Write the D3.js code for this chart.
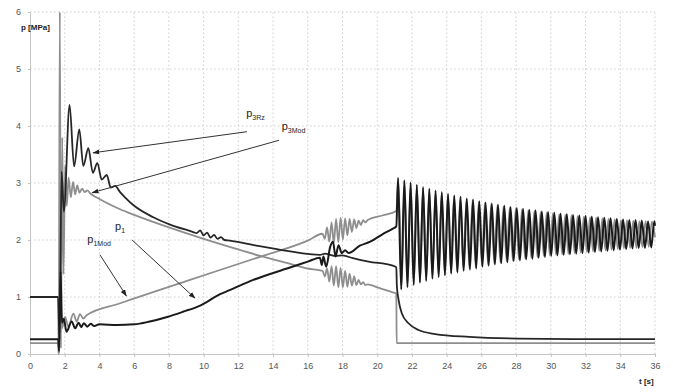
<!DOCTYPE html>
<html>
<head>
<meta charset="utf-8">
<script src="https://cdn.jsdelivr.net/npm/d3@7"></script>
<style>
  body { margin: 0; background: #fff; }
  svg { display: block; font-family: "Liberation Sans", Arial, sans-serif; }
  .grid line { stroke: #cfcfcf; stroke-dasharray: 1.5 2.5; }
</style>
</head>
<body>
<div id="chart"></div>
<script>
// tick labels
const xTicks = [0, 2, 4, 6, 8, 10, 12, 14, 16, 18, 20, 22, 24, 26, 28, 30, 32, 34, 36];
const yTicks = [0, 1, 2, 3, 4, 5, 6];

// p3Rz - measured pressure (black)
const p3Rz = [
  [0, 1.0], [1.62, 1.0], [1.70, 0.25], [1.82, 3.2], [1.95, 2.5], [2.28, 4.37], [2.54, 3.29],
  [2.84, 3.94], [3.07, 3.30], [3.36, 3.61], [3.62, 3.18], [3.88, 3.35], [4.13, 3.06],
  [4.42, 3.14], [4.65, 2.92], [4.90, 2.95], [5.19, 2.84], [5.5, 2.74], [6.0, 2.60],
  [7.1, 2.40], [8.0, 2.28], [9.4, 2.14], [9.6, 2.12], [9.8, 2.17], [10.0, 2.08],
  [10.2, 2.13], [10.4, 2.04], [10.6, 2.09], [10.8, 2.02], [11.0, 2.05], [11.2, 2.00],
  [11.5, 1.99], [12.9, 1.91], [14.8, 1.81], [16.7, 1.74], [17.0, 1.76], [17.3, 1.74],
  [17.6, 1.72], [18.0, 1.73], [18.6, 1.68], [19.5, 1.62], [20.9, 1.55], [21.1, 1.52],
  [21.13, 1.2], [21.23, 0.95], [21.42, 0.71], [21.8, 0.54], [22.38, 0.42], [23.34, 0.35],
  [25.3, 0.30], [28.1, 0.27], [32, 0.26], [36, 0.26]
];

// p3Mod - model pressure (grey)
const p3Mod = [
  [0, 1.0], [1.62, 1.0], [1.65, 0.0], [1.72, 6.0], [1.78, 0.1], [1.86, 3.8], [1.93, 1.4],
  [2.02, 3.3], [2.12, 2.6], [2.22, 3.1], [2.35, 2.75], [2.48, 3.02], [2.60, 2.80],
  [2.72, 2.96], [2.85, 2.83], [3.0, 2.90], [3.15, 2.84], [3.3, 2.87], [3.46, 2.82],
  [4.0, 2.72], [5.19, 2.54], [6.0, 2.44], [8.0, 2.22], [10.0, 2.02], [11.5, 1.88],
  [13.26, 1.72], [14.0, 1.66], [15.0, 1.58], [16.0, 1.50],
  [16.85, 1.46], [16.98, 1.36], [17.11, 1.50], [17.24, 1.27], [17.37, 1.54], [17.50, 1.20],
  [17.63, 1.54], [17.76, 1.17], [17.89, 1.51], [18.02, 1.17], [18.15, 1.46], [18.28, 1.18],
  [18.41, 1.41], [18.54, 1.20], [18.67, 1.36], [18.80, 1.21], [18.93, 1.30], [19.06, 1.22],
  [19.19, 1.26], [19.32, 1.21], [19.45, 1.22], [20.0, 1.17], [20.9, 1.08], [21.1, 1.06],
  [21.12, 0.19], [36, 0.19]
];

// p1 - measured pressure (black)
const p1 = [
  [0, 0.26], [1.62, 0.26], [1.68, 0.05], [1.76, 1.45], [1.84, 0.55], [1.95, 0.62],
  [2.1, 0.39], [2.4, 0.57], [2.6, 0.45], [2.8, 0.55], [2.95, 0.47], [3.1, 0.54],
  [3.3, 0.48], [3.5, 0.53], [3.7, 0.49], [4.0, 0.52], [5.0, 0.51], [6.0, 0.52],
  [6.9, 0.57], [7.9, 0.65], [8.8, 0.74], [9.8, 0.85], [10.95, 1.05], [11.5, 1.12],
  [12.86, 1.30], [14.8, 1.50], [16.0, 1.62], [16.7, 1.69], [16.81, 1.56], [16.9, 1.71],
  [17.06, 1.53], [17.29, 1.88], [17.45, 1.97], [17.6, 1.71], [17.77, 1.91], [17.96, 1.77],
  [18.15, 1.82], [18.35, 1.77], [19.0, 1.90], [19.6, 1.97], [20.3, 2.10], [20.9, 2.20],
  [21.1, 2.24],
  [21.20, 3.09], [21.38, 1.13], [21.56, 3.05], [21.74, 1.17], [21.92, 3.01], [22.10, 1.21],
  [22.28, 2.97], [22.46, 1.25], [22.64, 2.93], [22.82, 1.28], [23.00, 2.90], [23.18, 1.32],
  [23.36, 2.87], [23.54, 1.35], [23.72, 2.84], [23.90, 1.38], [24.08, 2.81], [24.26, 1.41],
  [24.44, 2.78], [24.62, 1.43], [24.80, 2.76], [24.98, 1.46], [25.16, 2.73], [25.34, 1.48],
  [25.52, 2.71], [25.70, 1.50], [25.88, 2.68], [26.06, 1.53], [26.24, 2.66], [26.42, 1.55],
  [26.60, 2.64], [26.78, 1.57], [26.96, 2.62], [27.14, 1.59], [27.32, 2.60], [27.50, 1.61],
  [27.68, 2.58], [27.86, 1.63], [28.04, 2.56], [28.22, 1.64], [28.40, 2.55], [28.58, 1.66],
  [28.76, 2.53], [28.94, 1.67], [29.12, 2.52], [29.30, 1.69], [29.48, 2.50], [29.66, 1.70],
  [29.84, 2.49], [30.02, 1.72], [30.20, 2.48], [30.38, 1.73], [30.56, 2.46], [30.74, 1.74],
  [30.92, 2.45], [31.10, 1.75], [31.28, 2.44], [31.46, 1.76], [31.64, 2.43], [31.82, 1.77],
  [32.00, 2.42], [32.18, 1.78], [32.36, 2.41], [32.54, 1.79], [32.72, 2.40], [32.90, 1.80],
  [33.08, 2.39], [33.26, 1.81], [33.44, 2.38], [33.62, 1.82], [33.80, 2.37], [33.98, 1.83],
  [34.16, 2.36], [34.34, 1.84], [34.52, 2.35], [34.70, 1.85], [34.88, 2.35], [35.06, 1.86],
  [35.24, 2.34], [35.42, 1.86], [35.60, 2.33], [35.78, 1.87], [35.96, 2.33], [36.0, 2.25]
];

// p1Mod - model pressure (grey)
const p1Mod = [
  [0, 0.19], [1.62, 0.19], [1.66, 0.0], [1.74, 1.6], [1.84, 0.45], [2.02, 0.65],
  [2.21, 0.48], [2.5, 0.71], [2.69, 0.57], [2.88, 0.70], [3.07, 0.62], [3.26, 0.68],
  [5.19, 0.89], [9.0, 1.28], [13.3, 1.71], [16.0, 1.99],
  [16.85, 2.11], [16.98, 2.02], [17.11, 2.22], [17.24, 1.97], [17.37, 2.31], [17.50, 1.95],
  [17.63, 2.37], [17.76, 1.96], [17.89, 2.39], [18.02, 2.01], [18.15, 2.38], [18.28, 2.08],
  [18.41, 2.37], [18.54, 2.14], [18.67, 2.36], [18.80, 2.21], [18.93, 2.34], [19.06, 2.26],
  [19.19, 2.35], [19.32, 2.31], [19.45, 2.35], [20.3, 2.43], [21.1, 2.51],
  [21.22, 3.05], [21.40, 1.15], [21.58, 3.02], [21.75, 1.19], [21.93, 2.98], [22.11, 1.23],
  [22.29, 2.94], [22.47, 1.27], [22.64, 2.91], [22.82, 1.30], [23.00, 2.88], [23.18, 1.34],
  [23.36, 2.85], [23.53, 1.37], [23.71, 2.82], [23.89, 1.40], [24.07, 2.79], [24.25, 1.43],
  [24.42, 2.77], [24.60, 1.45], [24.78, 2.74], [24.96, 1.48], [25.14, 2.72], [25.31, 1.50],
  [25.49, 2.70], [25.67, 1.52], [25.85, 2.67], [26.03, 1.55], [26.20, 2.65], [26.38, 1.57],
  [26.56, 2.63], [26.74, 1.59], [26.92, 2.61], [27.09, 1.61], [27.27, 2.59], [27.45, 1.63],
  [27.63, 2.57], [27.81, 1.64], [27.98, 2.56], [28.16, 1.66], [28.34, 2.54], [28.52, 1.67],
  [28.70, 2.52], [28.87, 1.69], [29.05, 2.51], [29.23, 1.70], [29.41, 2.49], [29.59, 1.72],
  [29.76, 2.48], [29.94, 1.73], [30.12, 2.47], [30.30, 1.74], [30.48, 2.45], [30.65, 1.75],
  [30.83, 2.44], [31.01, 1.76], [31.19, 2.43], [31.37, 1.77], [31.54, 2.42], [31.72, 1.78],
  [31.90, 2.41], [32.08, 1.79], [32.26, 2.40], [32.43, 1.80], [32.61, 2.39], [32.79, 1.81],
  [32.97, 2.38], [33.15, 1.82], [33.32, 2.37], [33.50, 1.83], [33.68, 2.36], [33.86, 1.84],
  [34.04, 2.35], [34.21, 1.85], [34.39, 2.35], [34.57, 1.86], [34.75, 2.34], [34.93, 1.86],
  [35.10, 2.33], [35.28, 1.87], [35.46, 2.33], [35.64, 1.88], [35.82, 2.32], [36.0, 2.05]
];

// annotation labels: text, subscript, label anchor (t, p), arrow start and tip (t, p)
const labels = [
  { main: 'p', sub: '3Rz',  at: [12.45, 4.15], from: [12.5, 3.9],  to: [3.63, 3.53] },
  { main: 'p', sub: '3Mod', at: [14.5, 3.93],  from: [14.35, 3.75], to: [3.58, 2.83] },
  { main: 'p', sub: '1',    at: [4.9, 2.18],   from: [5.88, 2.0],  to: [9.5, 0.98] },
  { main: 'p', sub: '1Mod', at: [3.3, 1.94],   from: [4.03, 1.74], to: [5.55, 1.02] }
];

const width = 673, height = 392;
const margin = { top: 12, right: 18, bottom: 38, left: 30 };

const svg = d3.select('#chart')
    .append('svg')
    .attr('width', width)
    .attr('height', height);

const xScale = d3.scaleLinear()
    .domain([0, 36])
    .range([margin.left, width - margin.right]);

const yScale = d3.scaleLinear()
    .domain([0, 6])
    .range([height - margin.bottom, margin.top]);

// dotted grid
const grid = svg.append('g').attr('class', 'grid');
grid.selectAll('.gx')
    .data(xTicks.slice(1))
    .enter().append('line')
    .attr('x1', d => xScale(d)).attr('x2', d => xScale(d))
    .attr('y1', yScale(0)).attr('y2', yScale(6));
grid.selectAll('.gy')
    .data(yTicks.slice(1))
    .enter().append('line')
    .attr('x1', xScale(0)).attr('x2', xScale(36))
    .attr('y1', d => yScale(d)).attr('y2', d => yScale(d));

// axes
const xAxis = svg.append('g')
    .attr('transform', `translate(0,${yScale(0)})`)
    .call(d3.axisBottom(xScale).tickValues(xTicks).tickFormat(d3.format('d'))
        .tickSize(3).tickPadding(6).tickSizeOuter(0));
const yAxis = svg.append('g')
    .attr('transform', `translate(${xScale(0)},0)`)
    .call(d3.axisLeft(yScale).tickValues(yTicks).tickFormat(d3.format('d'))
        .tickSize(2).tickPadding(7).tickSizeOuter(0));

[xAxis, yAxis].forEach(a => {
    a.select('.domain').attr('stroke', '#c4c4c4');
    a.selectAll('.tick line').attr('stroke', '#c4c4c4');
    a.selectAll('.tick text')
        .attr('fill', '#555')
        .style('font-size', '9px');
});

// axis titles
svg.append('text')
    .attr('x', 21).attr('y', 30)
    .attr('fill', '#222')
    .style('font-size', '8px')
    .style('font-weight', 'bold')
    .text('p [MPa]');
svg.append('text')
    .attr('x', 639).attr('y', 384)
    .attr('fill', '#222')
    .style('font-size', '8px')
    .style('font-weight', 'bold')
    .text('t [s]');

// series
const line = d3.line()
    .curve(d3.curveMonotoneX)
    .x(d => xScale(d[0]))
    .y(d => yScale(d[1]));

const series = [
    { data: p3Mod, color: '#8e8e8e', w: 1.8 },
    { data: p1Mod, color: '#8e8e8e', w: 1.8 },
    { data: p3Rz, color: '#262626', w: 1.8 },
    { data: p1, color: '#1a1a1a', w: 2 }
];

svg.append('g')
    .selectAll('path')
    .data(series)
    .enter().append('path')
    .attr('d', d => line(d.data))
    .attr('fill', 'none')
    .attr('stroke', d => d.color)
    .attr('stroke-width', d => d.w)
    .attr('stroke-linejoin', 'round');

// arrows
svg.append('defs').append('marker')
    .attr('id', 'arrow')
    .attr('viewBox', '0 0 10 10')
    .attr('refX', 9).attr('refY', 5)
    .attr('markerWidth', 7).attr('markerHeight', 7)
    .attr('orient', 'auto')
    .append('path')
    .attr('d', 'M0,1.5L10,5L0,8.5Z')
    .attr('fill', '#222');

const ann = svg.append('g');
ann.selectAll('line')
    .data(labels)
    .enter().append('line')
    .attr('x1', d => xScale(d.from[0])).attr('y1', d => yScale(d.from[1]))
    .attr('x2', d => xScale(d.to[0])).attr('y2', d => yScale(d.to[1]))
    .attr('stroke', '#333')
    .attr('stroke-width', 1)
    .attr('marker-end', 'url(#arrow)');

const lt = ann.selectAll('text')
    .data(labels)
    .enter().append('text')
    .attr('x', d => xScale(d.at[0]))
    .attr('y', d => yScale(d.at[1]))
    .attr('fill', '#222')
    .style('font-size', '11px');
lt.append('tspan').text(d => d.main);
lt.append('tspan')
    .attr('dy', 3)
    .style('font-size', '7px')
    .text(d => d.sub);
</script>
</body>
</html>
